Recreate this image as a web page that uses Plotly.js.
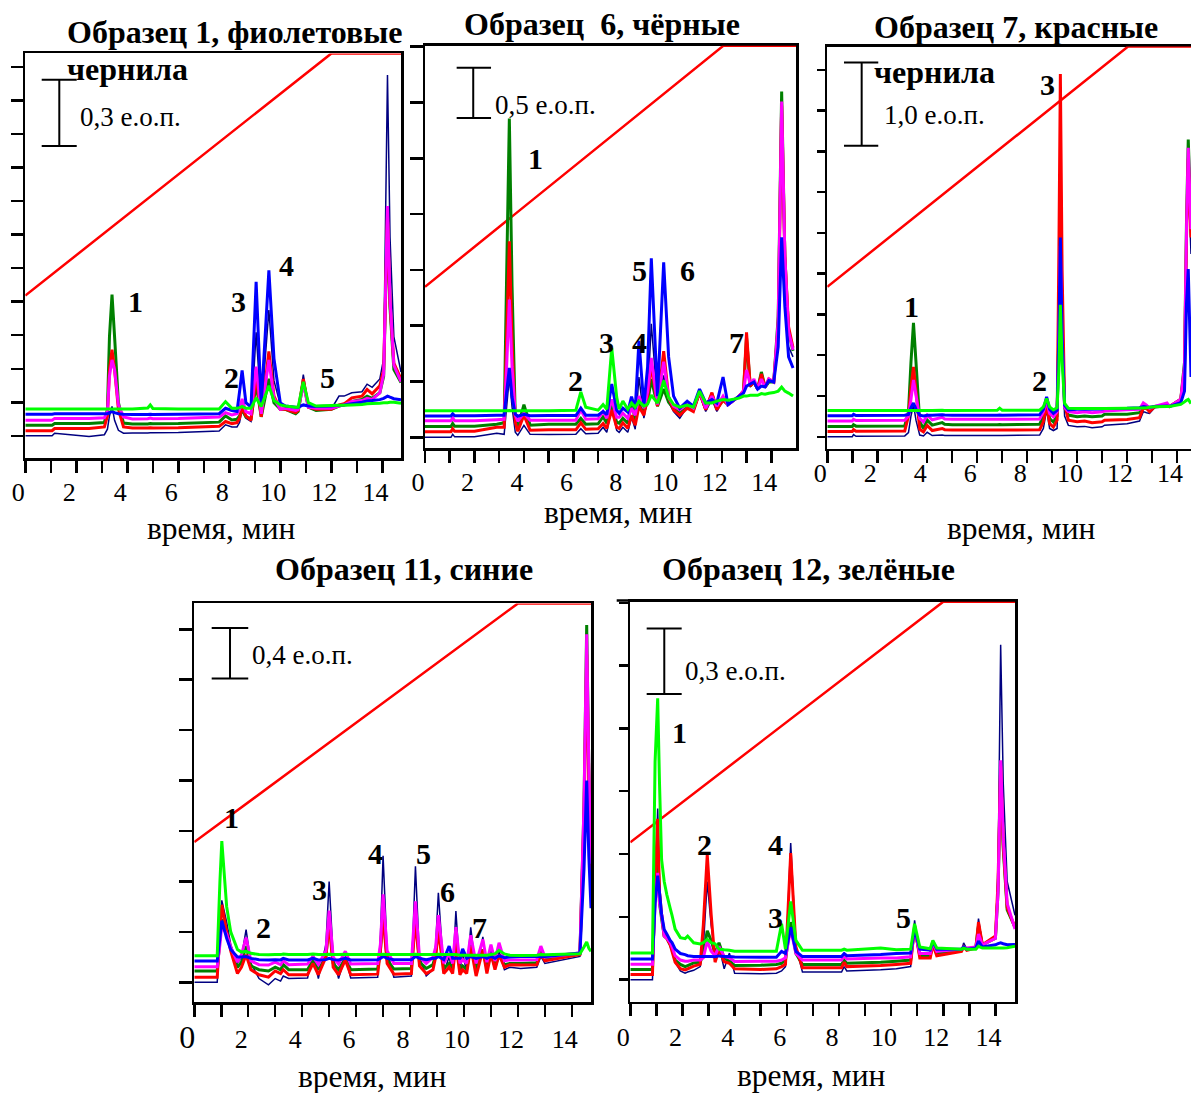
<!DOCTYPE html>
<html><head><meta charset="utf-8">
<script src="https://cdn.plot.ly/plotly-3.0.1.min.js"></script>
<style>html,body{margin:0;padding:0;background:#fff}#chart{width:1191px;height:1093px}</style>
</head><body><div id="chart"></div>
<script>
// ---------------- DATA ----------------
const xTickVals = [0,1,2,3,4,5,6,7,8,9,10,11,12,13,14];
const xTickText = ['0','','2','','4','','6','','8','','10','','12','','14'];
const p4_xTickText = ['<span style="font-size:32px">0</span>','','2','','4','','6','','8','','10','','12','','14'];
const scaleValues = [0.3, 0.5, 1.0, 0.4, 0.3];
const scaleLabels = ['0,3 е.о.п.', '0,5 е.о.п.', '1,0 е.о.п.', '0,4 е.о.п.', '0,3 е.о.п.'];
const xTitle = 'время, мин';

// Panel 1 — Образец 1, фиолетовые чернила
const p1_t = [0,1.05,1.15,2.5,3.1,3.22,3.3,3.4,3.5,3.65,3.85,4.2,4.8,4.9,5.0,6.0,7.6,7.85,8.1,8.3,8.4,8.5,8.65,8.85,9.05,9.25,9.55,9.75,10.0,10.2,10.6,10.7,10.9,11.1,11.4,12.0,12.3,12.5,12.8,13.2,13.4,13.6,13.9,14.05,14.2,14.3,14.45,14.73];
const p1_navy = [0,0,0.012,-0.003,0.005,0.03,0.09,0.133,0.07,0.025,0.012,0.013,0.013,0.014,0.014,0.015,0.022,0.05,0.04,0.04,0.06,0.12,0.08,0.065,0.469,0.11,0.57,0.25,0.14,0.13,0.11,0.12,0.277,0.14,0.12,0.122,0.18,0.18,0.195,0.2,0.234,0.22,0.258,0.35,1.636,0.9,0.45,0.289];
const p1_red = [0.023,0.023,0.033,0.033,0.04,0.09,0.3,0.39,0.3,0.12,0.04,0.035,0.035,0.037,0.035,0.036,0.043,0.065,0.055,0.06,0.08,0.13,0.09,0.07,0.273,0.086,0.383,0.18,0.12,0.12,0.105,0.115,0.258,0.13,0.12,0.12,0.14,0.145,0.172,0.18,0.21,0.19,0.227,0.3,1.0,0.6,0.33,0.258];
const p1_green = [0.048,0.048,0.056,0.056,0.06,0.12,0.45,0.64,0.45,0.15,0.058,0.054,0.054,0.056,0.055,0.056,0.062,0.09,0.072,0.075,0.09,0.117,0.085,0.078,0.234,0.086,0.258,0.15,0.12,0.12,0.1,0.11,0.242,0.13,0.115,0.12,0.135,0.14,0.156,0.165,0.18,0.17,0.195,0.27,0.98,0.58,0.3,0.242];
const p1_mag = [0.071,0.071,0.079,0.079,0.082,0.11,0.27,0.344,0.3,0.14,0.085,0.076,0.077,0.08,0.077,0.078,0.085,0.105,0.095,0.1,0.12,0.167,0.11,0.1,0.313,0.1,0.344,0.17,0.12,0.125,0.115,0.12,0.234,0.13,0.125,0.125,0.135,0.14,0.156,0.16,0.17,0.165,0.195,0.28,1.042,0.62,0.32,0.245];
const p1_blue = [0.098,0.098,0.1,0.1,0.1,0.1,0.105,0.11,0.105,0.1,0.098,0.097,0.097,0.098,0.097,0.098,0.1,0.125,0.115,0.11,0.2,0.297,0.15,0.13,0.698,0.14,0.75,0.35,0.148,0.135,0.13,0.13,0.14,0.135,0.133,0.135,0.138,0.14,0.145,0.152,0.158,0.16,0.164,0.17,0.18,0.175,0.168,0.164];
const p1_lime = [0.121,0.121,0.121,0.121,0.121,0.121,0.121,0.121,0.121,0.121,0.121,0.122,0.126,0.14,0.124,0.122,0.122,0.155,0.125,0.125,0.128,0.133,0.125,0.125,0.172,0.133,0.227,0.16,0.14,0.135,0.13,0.13,0.245,0.15,0.135,0.137,0.138,0.139,0.14,0.142,0.145,0.146,0.148,0.15,0.15,0.152,0.152,0.148];
const p1_gradT = [0,12.0,14.73];
const p1_gradY = [0.636,1.734,1.734];

// Panel 2 — Образец 6, чёрные
const p2_t = [0,1.05,1.12,1.2,2.0,2.9,3.2,3.3,3.41,3.52,3.65,3.75,4.0,4.25,5.0,6.1,6.3,6.5,7.0,7.2,7.35,7.55,7.75,7.85,8.0,8.2,8.35,8.5,8.65,8.85,9.0,9.15,9.4,9.65,9.85,10.05,10.3,10.6,10.85,11.1,11.35,11.6,11.8,12.05,12.25,12.7,12.88,13.0,13.15,13.3,13.45,13.6,13.75,13.9,14.1,14.28,14.42,14.55,14.7,14.88];
const p2_navy = [0,0,0.03,0.005,0.005,0.04,0.03,0.3,0.6,0.3,0.05,0.02,0.12,0.03,0.027,0.03,0.086,0.035,0.04,0.1,0.05,0.3,0.07,0.05,0.1,0.05,0.2,0.08,0.6,0.19,0.4,1.13,0.34,0.616,0.35,0.257,0.19,0.3,0.257,0.43,0.257,0.377,0.257,0.37,0.32,0.41,0.45,0.92,0.5,0.55,0.48,0.6,0.5,0.565,0.55,1.0,3.2,1.6,0.9,0.8];
const p2_red = [0.055,0.055,0.085,0.06,0.06,0.1,0.1,1.0,1.95,0.95,0.15,0.06,0.22,0.07,0.075,0.075,0.144,0.08,0.085,0.137,0.09,0.274,0.1,0.09,0.144,0.09,0.22,0.12,0.31,0.22,0.4,0.72,0.31,0.856,0.4,0.274,0.22,0.29,0.257,0.445,0.274,0.445,0.274,0.37,0.325,0.41,0.46,1.045,0.51,0.55,0.48,0.63,0.5,0.58,0.55,1.1,3.3,1.8,1.1,0.89];
const p2_green = [0.107,0.107,0.137,0.11,0.11,0.13,0.145,1.6,3.17,1.5,0.2,0.1,0.325,0.12,0.13,0.13,0.188,0.13,0.135,0.205,0.14,0.325,0.15,0.14,0.19,0.14,0.36,0.17,0.34,0.257,0.35,0.58,0.31,0.48,0.35,0.29,0.24,0.3,0.27,0.445,0.28,0.43,0.29,0.37,0.325,0.41,0.46,0.993,0.51,0.55,0.48,0.65,0.5,0.55,0.55,1.2,3.44,1.8,1.05,0.86];
const p2_mag = [0.164,0.164,0.194,0.165,0.165,0.175,0.18,0.7,1.37,0.7,0.22,0.16,0.24,0.17,0.17,0.17,0.274,0.18,0.185,0.257,0.19,0.377,0.2,0.2,0.24,0.19,0.29,0.22,0.41,0.29,0.45,0.79,0.325,0.753,0.4,0.31,0.274,0.33,0.29,0.46,0.29,0.41,0.31,0.41,0.325,0.41,0.46,0.67,0.53,0.58,0.48,0.58,0.5,0.58,0.55,1.15,3.34,1.8,1.05,0.87];
const p2_blue = [0.212,0.212,0.235,0.215,0.215,0.22,0.22,0.45,0.69,0.4,0.23,0.21,0.23,0.215,0.216,0.216,0.29,0.22,0.22,0.257,0.225,0.53,0.27,0.24,0.29,0.25,0.404,0.28,0.96,0.31,0.7,1.78,0.41,1.74,0.8,0.41,0.29,0.36,0.31,0.48,0.342,0.377,0.342,0.6,0.325,0.41,0.44,0.51,0.53,0.55,0.48,0.51,0.5,0.565,0.55,0.9,1.99,1.3,0.8,0.69];
const p2_lime = [0.264,0.264,0.264,0.264,0.264,0.264,0.264,0.264,0.266,0.264,0.264,0.264,0.264,0.264,0.264,0.27,0.452,0.3,0.27,0.325,0.28,0.89,0.4,0.28,0.36,0.28,0.342,0.3,0.36,0.31,0.33,0.42,0.34,0.565,0.4,0.325,0.3,0.32,0.3,0.46,0.342,0.342,0.36,0.377,0.37,0.39,0.41,0.41,0.418,0.418,0.418,0.435,0.428,0.438,0.445,0.46,0.5,0.46,0.44,0.41];
const p2_gradT = [0,12.06,15];
const p2_gradY = [1.497,3.894,3.894];

// Panel 3 — Образец 7, красные чернила
const p3_t = [0,1.0,1.05,1.15,3.1,3.25,3.35,3.45,3.55,3.7,3.85,4.0,4.2,4.6,4.7,5.0,6.8,6.9,7.0,8.5,8.65,8.78,8.9,9.05,9.2,9.27,9.33,9.4,9.5,9.65,10.0,10.3,10.6,11.0,11.1,12.0,12.5,12.65,12.78,12.9,13.1,13.6,13.7,14.15,14.3,14.38,14.45,14.56];
const p3_navy = [0,0,0.025,0.005,0.01,0.05,0.25,0.386,0.2,0.02,0.01,0.054,0.015,0.02,0.015,0.015,0.015,0.016,0.015,0.02,0.1,0.324,0.1,0.075,0.1,1.0,1.9,1.0,0.25,0.137,0.12,0.125,0.11,0.12,0.14,0.158,0.19,0.303,0.29,0.282,0.35,0.365,0.36,0.44,0.7,2.2,3.1,2.2];
const p3_red = [0.062,0.062,0.085,0.065,0.07,0.25,0.6,0.842,0.55,0.09,0.06,0.137,0.075,0.1,0.085,0.08,0.08,0.082,0.08,0.085,0.18,0.386,0.16,0.116,0.2,2.2,4.37,2.0,0.4,0.2,0.18,0.19,0.17,0.18,0.2,0.207,0.23,0.344,0.34,0.303,0.36,0.38,0.365,0.45,0.8,2.4,3.35,2.4];
const p3_green = [0.124,0.124,0.145,0.128,0.13,0.3,0.9,1.373,0.9,0.18,0.1,0.2,0.14,0.17,0.15,0.145,0.145,0.147,0.145,0.15,0.25,0.44,0.22,0.178,0.25,1.3,2.51,1.3,0.35,0.261,0.24,0.25,0.24,0.25,0.27,0.27,0.29,0.365,0.36,0.324,0.365,0.38,0.365,0.45,0.9,2.6,3.58,2.6];
const p3_mag = [0.191,0.191,0.21,0.195,0.2,0.25,0.45,0.685,0.5,0.22,0.18,0.26,0.205,0.235,0.215,0.21,0.21,0.212,0.21,0.215,0.3,0.427,0.28,0.24,0.3,1.2,2.3,1.2,0.35,0.303,0.29,0.3,0.29,0.3,0.31,0.324,0.33,0.407,0.38,0.344,0.365,0.407,0.365,0.45,0.85,2.5,3.48,2.5];
const p3_blue = [0.253,0.253,0.27,0.255,0.26,0.27,0.35,0.407,0.33,0.26,0.25,0.26,0.26,0.265,0.262,0.26,0.26,0.262,0.26,0.265,0.33,0.48,0.33,0.282,0.32,1.2,2.4,1.2,0.38,0.324,0.33,0.335,0.33,0.335,0.34,0.344,0.35,0.365,0.36,0.357,0.365,0.37,0.365,0.41,0.55,1.6,2.02,0.72];
const p3_lime = [0.315,0.315,0.315,0.315,0.315,0.315,0.315,0.315,0.315,0.315,0.315,0.315,0.315,0.318,0.317,0.317,0.318,0.345,0.32,0.32,0.36,0.46,0.36,0.324,0.35,0.8,1.59,0.9,0.4,0.344,0.34,0.34,0.34,0.34,0.34,0.344,0.345,0.346,0.35,0.355,0.36,0.365,0.365,0.39,0.42,0.44,0.45,0.4];
const p3_gradT = [0,12.04,14.56];
const p3_gradY = [1.805,4.70,4.70];

// Panel 4 — Образец 11, синие
const p4_t = [0,0.85,0.95,1.02,1.2,1.35,1.6,1.75,1.92,2.1,2.4,2.75,3.0,3.2,3.3,3.5,4.2,4.4,4.6,4.88,5.0,5.15,5.35,5.6,5.8,6.8,6.9,7.0,7.15,7.4,8.05,8.2,8.35,8.6,8.85,8.95,9.05,9.25,9.45,9.58,9.7,9.85,9.95,10.1,10.25,10.45,10.7,10.85,11.0,11.15,11.3,11.5,11.7,12.1,12.7,12.85,13.0,14.3,14.45,14.55,14.63,14.71];
const p4_navy = [0,0,0.4,0.65,0.478,0.3,0.15,0.2,0.418,0.15,0.03,-0.02,0.03,0.01,0.05,0.03,0.035,0.232,0.03,0.3,0.8,0.2,0.03,0.205,0.035,0.04,0.35,1.003,0.25,0.04,0.05,0.921,0.2,0.05,0.1,0.3,0.71,0.08,0.2,0.08,0.566,0.08,0.232,0.08,0.437,0.07,0.36,0.09,0.26,0.1,0.246,0.1,0.12,0.11,0.12,0.205,0.15,0.205,1.2,2.5,1.5,0.8];
const p4_red = [0.041,0.041,0.4,0.615,0.4,0.25,0.07,0.12,0.219,0.1,0.06,0.041,0.09,0.07,0.1,0.06,0.06,0.15,0.06,0.2,0.478,0.12,0.06,0.178,0.06,0.065,0.25,0.533,0.15,0.065,0.07,0.505,0.13,0.07,0.1,0.2,0.42,0.07,0.12,0.07,0.31,0.06,0.1,0.07,0.287,0.05,0.26,0.07,0.23,0.1,0.22,0.12,0.14,0.137,0.14,0.232,0.17,0.22,1.3,2.6,1.6,0.86];
const p4_green = [0.09,0.09,0.35,0.5,0.38,0.27,0.12,0.16,0.287,0.13,0.1,0.09,0.12,0.1,0.14,0.1,0.1,0.178,0.1,0.2,0.505,0.15,0.1,0.19,0.1,0.105,0.25,0.56,0.18,0.105,0.11,0.533,0.16,0.11,0.14,0.22,0.45,0.11,0.15,0.11,0.34,0.1,0.13,0.1,0.3,0.1,0.26,0.11,0.23,0.12,0.22,0.14,0.15,0.15,0.155,0.246,0.18,0.227,1.4,2.833,1.7,0.89];
const p4_mag = [0.123,0.123,0.3,0.45,0.38,0.28,0.16,0.22,0.355,0.17,0.14,0.137,0.16,0.14,0.17,0.14,0.145,0.205,0.14,0.25,0.568,0.2,0.145,0.246,0.145,0.15,0.3,0.697,0.25,0.15,0.15,0.642,0.2,0.15,0.2,0.28,0.533,0.15,0.232,0.15,0.437,0.15,0.18,0.15,0.374,0.15,0.34,0.16,0.3,0.17,0.314,0.17,0.178,0.178,0.18,0.287,0.2,0.232,1.4,2.76,1.7,0.94];
const p4_blue = [0.169,0.169,0.35,0.49,0.35,0.26,0.2,0.2,0.205,0.19,0.18,0.178,0.18,0.178,0.19,0.178,0.178,0.19,0.178,0.18,0.19,0.18,0.178,0.19,0.178,0.18,0.19,0.205,0.19,0.18,0.18,0.205,0.19,0.18,0.19,0.19,0.205,0.18,0.287,0.19,0.19,0.19,0.265,0.19,0.205,0.19,0.205,0.19,0.205,0.19,0.21,0.195,0.2,0.205,0.205,0.205,0.205,0.232,0.9,1.6,1.0,0.587];
const p4_lime = [0.21,0.21,0.8,1.12,0.6,0.4,0.26,0.24,0.246,0.23,0.22,0.219,0.22,0.22,0.225,0.22,0.22,0.225,0.22,0.22,0.222,0.22,0.22,0.222,0.22,0.22,0.22,0.222,0.22,0.22,0.22,0.222,0.22,0.22,0.22,0.22,0.222,0.22,0.22,0.22,0.22,0.215,0.215,0.215,0.215,0.215,0.215,0.215,0.22,0.225,0.254,0.225,0.215,0.213,0.215,0.22,0.218,0.227,0.28,0.32,0.27,0.246];
const p4_gradT = [0,12.0,14.71];
const p4_gradY = [1.112,3.005,3.005];

// Panel 5 — Образец 12, зелёные
const p5_t = [0,0.85,0.95,1.05,1.12,1.2,1.3,1.4,1.53,1.6,1.72,1.92,2.1,2.2,2.43,2.68,2.8,2.95,3.1,3.25,3.4,3.6,3.8,4.0,5.0,5.6,5.8,5.95,6.15,6.35,6.6,8.1,8.2,8.3,9.6,10.2,10.75,10.9,11.1,11.5,11.6,11.75,12.7,12.78,12.9,13.25,13.35,13.5,14.0,14.1,14.2,14.3,14.45,14.75];
const p5_navy = [0,0,0.4,0.785,0.45,0.3,0.232,0.2,0.17,0.15,0.08,0.04,0.03,0.035,0.043,0.06,0.15,0.45,0.25,0.12,0.153,0.05,0.122,0.03,0.027,0.03,0.04,0.06,0.627,0.15,0.035,0.035,0.06,0.04,0.045,0.05,0.06,0.272,0.1,0.1,0.17,0.11,0.13,0.169,0.14,0.15,0.28,0.16,0.2,0.5,1.536,0.9,0.45,0.295];
const p5_red = [0.024,0.024,0.45,0.738,0.4,0.3,0.2,0.19,0.16,0.13,0.08,0.05,0.045,0.05,0.062,0.07,0.25,0.572,0.3,0.08,0.137,0.082,0.075,0.05,0.047,0.05,0.06,0.07,0.58,0.15,0.055,0.055,0.08,0.06,0.065,0.07,0.075,0.248,0.1,0.1,0.16,0.11,0.13,0.15,0.135,0.145,0.264,0.16,0.2,0.45,0.98,0.62,0.33,0.24];
const p5_green = [0.047,0.047,0.4,0.61,0.35,0.28,0.2,0.19,0.16,0.14,0.09,0.07,0.06,0.065,0.077,0.08,0.12,0.224,0.18,0.12,0.169,0.098,0.085,0.065,0.066,0.07,0.075,0.09,0.264,0.12,0.07,0.07,0.09,0.075,0.08,0.085,0.09,0.24,0.11,0.11,0.17,0.12,0.135,0.15,0.14,0.15,0.248,0.16,0.19,0.4,0.95,0.6,0.32,0.24];
const p5_mag = [0.071,0.071,0.35,0.49,0.35,0.3,0.2,0.19,0.17,0.15,0.11,0.09,0.085,0.085,0.09,0.09,0.1,0.177,0.13,0.11,0.153,0.106,0.1,0.083,0.085,0.085,0.09,0.1,0.232,0.12,0.09,0.09,0.11,0.095,0.1,0.1,0.105,0.232,0.12,0.12,0.17,0.13,0.14,0.15,0.145,0.15,0.209,0.16,0.19,0.4,1.006,0.65,0.35,0.232];
const p5_blue = [0.095,0.095,0.35,0.477,0.4,0.3,0.23,0.21,0.18,0.17,0.14,0.12,0.115,0.11,0.106,0.106,0.106,0.106,0.106,0.105,0.109,0.106,0.106,0.104,0.103,0.103,0.13,0.12,0.24,0.13,0.106,0.106,0.12,0.11,0.115,0.12,0.122,0.232,0.14,0.135,0.175,0.14,0.14,0.15,0.14,0.145,0.177,0.15,0.16,0.165,0.169,0.165,0.16,0.161];
const p5_lime = [0.122,0.122,1.0,1.29,0.9,0.55,0.45,0.39,0.327,0.295,0.232,0.193,0.188,0.2,0.169,0.164,0.17,0.185,0.17,0.165,0.14,0.137,0.135,0.13,0.13,0.13,0.256,0.14,0.359,0.18,0.135,0.135,0.14,0.135,0.145,0.137,0.14,0.256,0.15,0.142,0.18,0.145,0.14,0.145,0.14,0.14,0.153,0.145,0.145,0.145,0.145,0.145,0.146,0.153];
const p5_gradT = [0,12.0,14.75];
const p5_gradY = [0.63,1.733,1.733];

// ---------------- LAYOUT / STYLE ----------------
const W = 1191, H = 1093;
const SERIF = 'Liberation Serif, Times New Roman, serif';
const COLORS = {navy:'#000080', green:'#008000', red:'#ff0000', mag:'#ff00ff', blue:'#0000ff', lime:'#00ff00'};
const WIDTHS = {navy:1.5, green:3, red:3, mag:3, blue:3, lime:3};
const ORDER = ['navy','green','red','mag','blue','lime'];

const panels = [
  {s:'', d:{t:p1_t,navy:p1_navy,green:p1_green,red:p1_red,mag:p1_mag,blue:p1_blue,lime:p1_lime}, gt:p1_gradT, gy:p1_gradY,
   box:[25.3,401,53.4,458.3], xr:[0,14.73], yr:[-0.102,1.734], dtick:0.152, ytl:12, stand:-3, tt:xTickText,
   bar:{x0:0.643, xm:1.333, x1:2.016, y0:1.314}, barTxt:[78.3,117.2], xtitle:[221,528],
   titles:[['Образец 1, фиолетовые',65,31.7,'left'],['чернила',65,68.9,'left']],
   peaks:[['1',135,301.6],['2',231,377.5],['3',238.7,301.6],['4',286.7,265.4],['5',327.7,377.5]]},
  {s:'2', d:{t:p2_t,navy:p2_navy,green:p2_green,red:p2_red,mag:p2_mag,blue:p2_blue,lime:p2_lime}, gt:p2_gradT, gy:p2_gradY,
   box:[425,796,45.8,448.4], xr:[0,15], yr:[-0.11,3.894], dtick:0.555, ytl:13, stand:-3, tt:xTickText,
   bar:{x0:1.28, xm:1.95, x1:2.67, y0:3.175}, barTxt:[493.3,105], xtitle:[618,512],
   titles:[['Образец  6, чёрные',601.7,24.1,'center']],
   peaks:[['1',535,158.5],['2',575,380.6],['3',606.7,342.7],['4',639.3,342.7],['5',639.3,270.4],['6',687.3,270.4],['7',736.7,342.7]]},
  {s:'3', d:{t:p3_t,navy:p3_navy,green:p3_green,red:p3_red,mag:p3_mag,blue:p3_blue,lime:p3_lime}, gt:p3_gradT, gy:p3_gradY,
   box:[827.3,1191,46.5,448.8], xr:[0,14.56], yr:[-0.145,4.70], dtick:0.491, ytl:8, stand:-13, tt:xTickText,
   bar:{x0:0.668, xm:1.376, x1:2.04, y0:3.506}, barTxt:[881.7,115], xtitle:[1021.7,528],
   titles:[['Образец 7, красные',871.7,27.3,'left'],['чернила',871.7,71.7,'left']],
   peaks:[['1',911.7,306.6],['2',1039.3,380.6],['3',1047.7,84.4]]},
  {s:'4', d:{t:p4_t,navy:p4_navy,green:p4_green,red:p4_red,mag:p4_mag,blue:p4_blue,lime:p4_lime}, gt:p4_gradT, gy:p4_gradY,
   box:[194.3,591,603.4,1002], xr:[0,14.71], yr:[-0.156,3.005], dtick:0.4, ytl:13, stand:0, tt:p4_xTickText,
   bar:{x0:0.645, xm:1.324, x1:2.0, y0:2.41}, barTxt:[250,655.1], xtitle:[372.3,1076],
   titles:[['Образец 11, синие',404.2,569,'center']],
   peaks:[['1',231,817],['2',263.3,927.2],['3',319,889.3],['4',375.7,853.1],['5',423.3,853.1],['6',447.3,891],['7',479.3,927.2]]},
  {s:'5', d:{t:p5_t,navy:p5_navy,green:p5_green,red:p5_red,mag:p5_mag,blue:p5_blue,lime:p5_lime}, gt:p5_gradT, gy:p5_gradY,
   box:[630.3,1015,601.7,1001.5], xr:[0,14.75], yr:[-0.1,1.733], dtick:0.288, ytl:9, stand:-1, tt:xTickText,
   bar:{x0:0.628, xm:1.303, x1:1.97, y0:1.31}, barTxt:[683.3,670.6], xtitle:[811.7,1075],
   titles:[['Образец 12, зелёные',808.3,569,'center']],
   peaks:[['1',679.3,732.6],['2',704,844.5],['3',775,917.9],['4',775,844.5],['5',903.3,917.9]]}
];

const traces = [];
const layout = {
  width: W, height: H, margin:{l:0,r:0,t:0,b:0},
  paper_bgcolor:'#ffffff', plot_bgcolor:'rgba(0,0,0,0)',
  showlegend:false, hovermode:false,
  font:{family:SERIF, color:'#000'},
  annotations:[], shapes:[]
};
const px = x => x / W;
const py = y => 1 - y / H;

panels.forEach((p, i) => {
  const xa = 'x' + p.s, ya = 'y' + p.s;
  traces.push({type:'scatter', mode:'lines', x:p.gt, y:p.gy, xaxis:xa, yaxis:ya,
    line:{color:'#ff0000', width:2.5}, cliponaxis:false});
  ORDER.forEach(k => {
    traces.push({type:'scatter', mode:'lines', x:p.d.t, y:p.d[k], xaxis:xa, yaxis:ya,
      line:{color:COLORS[k], width:WIDTHS[k], simplify:false}});
  });
  layout['xaxis' + p.s] = {
    domain:[px(p.box[0]), Math.min(1, px(p.box[1]))], range:p.xr, anchor:ya,
    showline:true, linecolor:'#000', linewidth:2.5, mirror:true,
    ticks:'outside', ticklen:12, tickwidth:2.5, tickcolor:'#000',
    tickmode:'array', tickvals:xTickVals, ticktext:p.tt,
    tickfont:{family:SERIF, size:26, color:'#000'},
    ticklabelshift:-7, ticklabelstandoff:p.stand,
    showgrid:false, zeroline:false, layer:'below traces', fixedrange:true
  };
  layout['yaxis' + p.s] = {
    domain:[py(p.box[3]), py(p.box[2])], range:p.yr, anchor:xa,
    showline:true, linecolor:'#000', linewidth:2.5, mirror:true,
    ticks:'outside', ticklen:p.ytl, tickwidth:2.5, tickcolor:'#000',
    tick0:0, dtick:p.dtick, showticklabels:false,
    showgrid:false, zeroline:false, layer:'below traces', fixedrange:true
  };
  const b = p.bar, top = b.y0 + scaleValues[i];
  const ln = {color:'#000', width:2};
  layout.shapes.push({type:'line', xref:xa, yref:ya, x0:b.xm, x1:b.xm, y0:b.y0, y1:top, line:ln});
  layout.shapes.push({type:'line', xref:xa, yref:ya, x0:b.x0, x1:b.x1, y0:b.y0, y1:b.y0, line:ln});
  layout.shapes.push({type:'line', xref:xa, yref:ya, x0:b.x0, x1:b.x1, y0:top, y1:top, line:ln});
  layout.annotations.push({text:scaleLabels[i], xref:'paper', yref:'paper', x:px(p.barTxt[0]), y:py(p.barTxt[1]),
    xanchor:'left', yanchor:'middle', showarrow:false, font:{family:SERIF, size:27, color:'#000'}});
  layout.annotations.push({text:xTitle, xref:'paper', yref:'paper', x:px(p.xtitle[0]), y:py(p.xtitle[1]),
    xanchor:'center', yanchor:'middle', showarrow:false, font:{family:SERIF, size:31.5, color:'#000'}});
  p.titles.forEach(tl => {
    layout.annotations.push({text:tl[0], xref:'paper', yref:'paper', x:px(tl[1]), y:py(tl[2]),
      xanchor:tl[3], yanchor:'middle', showarrow:false, font:{family:SERIF, size:32, color:'#000', weight:'bold'}});
  });
  p.peaks.forEach(pk => {
    layout.annotations.push({text:pk[0], xref:'paper', yref:'paper', x:px(pk[1]), y:py(pk[2]),
      xanchor:'center', yanchor:'middle', showarrow:false, font:{family:SERIF, size:30, color:'#000', weight:'bold'}});
  });
});
layout.shapes.push({type:'line', xref:'paper', yref:'paper', x0:px(616.7), x1:px(630.3), y0:py(600.5), y1:py(600.5), line:{color:'#000', width:2.5}});

Plotly.newPlot('chart', traces, layout, {staticPlot:true, displayModeBar:false});
</script>
</body></html>
